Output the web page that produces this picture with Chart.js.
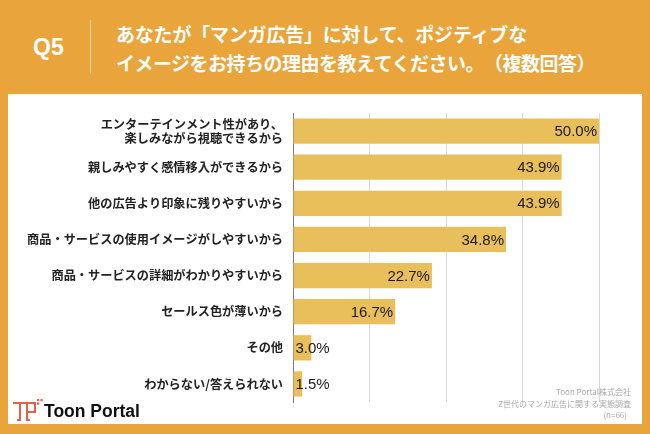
<!DOCTYPE html>
<html lang="ja">
<head>
<meta charset="utf-8">
<script src="https://cdn.jsdelivr.net/npm/chart.js@4/dist/chart.umd.min.js"></script>
<style>
  html, body { margin:0; padding:0; }
  body { width:650px; height:434px; background:#E9A53B; position:relative; overflow:hidden; font-family:"Noto Sans CJK JP", "Noto Sans", sans-serif; }
  #panel { position:absolute; left:8px; top:94px; width:634px; height:330px; background:#fff; }
  #q { position:absolute; left:33px; top:33px; color:#fff; font:bold 23px "Liberation Sans", Arial, sans-serif; line-height:28px; }
  #divider { position:absolute; left:90px; top:20px; width:1px; height:54px; background:rgba(255,255,255,0.55); }
  #title { position:absolute; left:116px; top:19px; color:#fff; font-weight:bold; font-size:19px; line-height:29px; white-space:nowrap; text-spacing-trim: space-all; }
  #title .l1 { letter-spacing:-0.2px; }
  #title .l2 { letter-spacing:-0.5px; }
  #chart { position:absolute; left:0; top:0; }
  #src { position:absolute; right:19px; top:386px; color:#a8a8a8; font-size:8px; line-height:11.5px; text-align:right; white-space:nowrap; }
  #logo { position:absolute; left:12px; top:398px; }
  #logotext { position:absolute; left:44px; top:401px; font:bold 17.5px "Liberation Sans", Arial, sans-serif; color:#111; line-height:20px; }
</style>
</head>
<body>
<div id="panel"></div>
<div id="q">Q5</div>
<div id="divider"></div>
<div id="title"><span class="l1">あなたが「マンガ広告」に対して、ポジティブな</span><br><span class="l2">イメージをお持ちの理由を教えてください。（複数回答）</span></div>
<canvas id="chart" width="650" height="434"></canvas>
<div id="src">Toon Portal株式会社<br>Z世代のマンガ広告に関する実態調査<br><span style="padding-right:4px">(n=66)</span></div>
<svg id="logo" width="32" height="26" viewBox="0 0 32 26">
  <g fill="none" stroke="#E5604A" stroke-width="2" stroke-linecap="square">
    <path d="M2 5 H15"/>
    <path d="M8 5 V22 H6"/>
    <path d="M15 5 V22 H17"/>
    <path d="M15 5 H23 V14 H15"/>
  </g>
  <g fill="#E5604A">
    <rect x="25" y="1" width="2.2" height="2.2"/>
    <rect x="28.5" y="1" width="2.2" height="2.2"/>
    <rect x="25" y="4.5" width="2.2" height="2.2"/>
  </g>
</svg>
<div id="logotext">Toon Portal</div>
<script>
const categories = [
  ['エンターテインメント性があり、', '楽しみながら視聴できるから'],
  '親しみやすく感情移入ができるから',
  '他の広告より印象に残りやすいから',
  '商品・サービスの使用イメージがしやすいから',
  '商品・サービスの詳細がわかりやすいから',
  'セールス色が薄いから',
  'その他',
  'わからない/答えられない'
];
const values = [50.0, 43.9, 43.9, 34.8, 22.7, 16.7, 3.0, 1.5];
const valueLabels = ['50.0%', '43.9%', '43.9%', '34.8%', '22.7%', '16.7%', '3.0%', '1.5%'];

const valueLabelPlugin = {
  id: 'valueLabels',
  afterDatasetsDraw(chart) {
    const ctx = chart.ctx;
    const meta = chart.getDatasetMeta(0);
    ctx.save();
    ctx.font = '15px "Liberation Sans", Arial, sans-serif';
    ctx.fillStyle = '#1a1a1a';
    ctx.textBaseline = 'middle';
    meta.data.forEach((bar, i) => {
      const txt = valueLabels[i];
      const w = ctx.measureText(txt).width;
      const barW = bar.x - bar.base;
      if (barW > w + 6) {
        ctx.textAlign = 'right';
        ctx.fillText(txt, bar.x - 2, bar.y + 1);
      } else {
        ctx.textAlign = 'left';
        ctx.fillText(txt, bar.base + 2, bar.y + 1);
      }
    });
    ctx.restore();
  }
};

new Chart(document.getElementById('chart'), {
  type: 'bar',
  data: {
    labels: categories,
    datasets: [{
      data: values,
      backgroundColor: '#E9BF5B',
      borderWidth: 0,
      categoryPercentage: 1.0,
      barPercentage: 0.7
    }]
  },
  options: {
    indexAxis: 'y',
    responsive: false,
    devicePixelRatio: 1,
    animation: false,
    layout: { padding: { top: 113, bottom: 32, left: 0, right: 51 } },
    plugins: { legend: { display: false }, tooltip: { enabled: false } },
    scales: {
      x: {
        min: 0, max: 50,
        ticks: { display: false, stepSize: 12.5 },
        grid: { color: '#d9d9d9', drawTicks: false, lineWidth: 1 },
        border: { display: false }
      },
      y: {
        afterFit(scale) { scale.width = 293; },
        grid: { display: false, drawTicks: false },
        border: { display: true, color: '#7a7a7a', width: 1 },
        ticks: {
          color: '#222',
          padding: 10,
          font: { family: '"Noto Sans CJK JP", sans-serif', size: 12.2, weight: 'bold', lineHeight: 1.15 }
        }
      }
    }
  },
  plugins: [valueLabelPlugin]
});
</script>
</body>
</html>
